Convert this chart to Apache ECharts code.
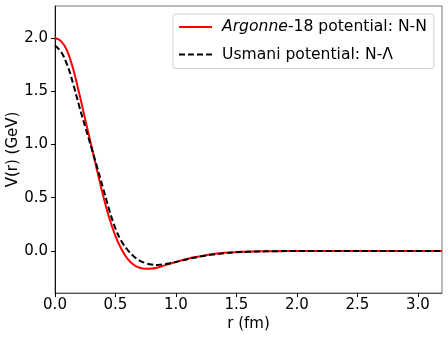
<!DOCTYPE html>
<html>
<head>
<meta charset="utf-8">
<title>V(r)</title>
<style>
  html, body { margin: 0; padding: 0; background: #fff; }
  #chart { width: 448px; height: 340px; }
</style>
</head>
<body>
<div id="chart"></div>
<script src="https://cdn.jsdelivr.net/npm/echarts@6/dist/echarts.min.js"></script>
<script>
// r grid (fm)
var rGrid = [0, 0.05, 0.1, 0.15, 0.2, 0.25, 0.3, 0.35, 0.4, 0.45, 0.5, 0.55, 0.6, 0.65, 0.7, 0.75,
  0.8, 0.85, 0.9, 0.95, 1.0, 1.05, 1.1, 1.15, 1.2, 1.25, 1.3, 1.35, 1.4, 1.5, 1.6, 1.7, 1.8, 2.0, 2.5, 3.2];

// Argonne-18, N-N (GeV)
var av18 = [2.00, 1.97, 1.88, 1.71, 1.48, 1.235, 0.99, 0.745, 0.51, 0.305, 0.14, 0.015, -0.075, -0.13, -0.158, -0.168,
  -0.166, -0.155, -0.138, -0.120, -0.103, -0.088, -0.073, -0.060, -0.050, -0.040, -0.031, -0.024, -0.018, -0.011, -0.006, -0.004, -0.002, -0.001, 0, 0];

// Usmani, N-Lambda (GeV)
var usmani = [1.93, 1.87, 1.75, 1.57, 1.36, 1.165, 0.975, 0.78, 0.58, 0.38, 0.21, 0.09, 0.01, -0.05, -0.09, -0.115,
  -0.128, -0.131, -0.126, -0.116, -0.104, -0.090, -0.076, -0.064, -0.053, -0.043, -0.034, -0.027, -0.021, -0.013, -0.008, -0.005, -0.003, -0.001, 0, 0];

var xTicks = [0, 0.5, 1.0, 1.5, 2.0, 2.5, 3.0];
var yTicks = [0, 0.5, 1.0, 1.5, 2.0];

var seriesNames = ['Argonne-18 potential: N-N', 'Usmani potential: N-\u039b'];

function pairs(xs, ys) {
  var out = [];
  for (var i = 0; i < xs.length; i++) out.push([xs[i], ys[i]]);
  return out;
}

var font = 'DejaVu Sans';
var fs = 15;
var lfs = 15.6;
var chart = echarts.init(document.getElementById('chart'));

chart.setOption({
  animation: false,
  textStyle: { fontFamily: font },
  grid: {
    left: 55, right: 6, top: 6, bottom: 47,
    outerBoundsMode: 'none', containLabel: false,
    show: true, borderColor: '#777', borderWidth: 1, backgroundColor: 'transparent'
  },
  legend: {
    orient: 'vertical',
    left: 173, top: 14,
    padding: [5, 7, 6, 5],
    itemGap: 11.5,
    itemWidth: 33, itemHeight: 14,
    backgroundColor: 'rgba(255,255,255,0.8)',
    borderColor: '#d0d0d0', borderWidth: 1, borderRadius: 3,
    itemStyle: { opacity: 0 },
    data: seriesNames,
    formatter: function (name) {
      if (name === seriesNames[0]) return '{i|Argonne}{n|-18 potential: N-N}';
      return '{n|' + name + '}';
    },
    textStyle: {
      fontFamily: font, fontSize: lfs, color: '#000', padding: [0, 0, 0, 5],
      rich: {
        i: { fontFamily: font, fontSize: lfs, fontStyle: 'italic', color: '#000' },
        n: { fontFamily: font, fontSize: lfs, color: '#000' }
      }
    }
  },
  xAxis: {
    type: 'value', min: 0, max: 3.2,
    name: 'r (fm)', nameLocation: 'middle', nameGap: 24, nameMoveOverlap: false,
    nameTextStyle: { fontFamily: font, fontSize: fs, color: '#000' },
    axisLine: { onZero: false, lineStyle: { color: '#555', width: 1 } },
    axisTick: { show: true, length: 4, customValues: xTicks, lineStyle: { color: '#000' } },
    axisLabel: {
      customValues: xTicks, margin: 5, fontFamily: font, fontSize: fs, color: '#000',
      formatter: function (v) { return v.toFixed(1); }
    },
    splitLine: { show: false }
  },
  yAxis: {
    type: 'value', min: -0.395, max: 2.3,
    name: 'V(r) (GeV)', nameLocation: 'middle', nameGap: 34, nameMoveOverlap: false,
    nameTextStyle: { fontFamily: font, fontSize: fs, color: '#000' },
    axisLine: { show: true, onZero: false, lineStyle: { color: '#111', width: 1 } },
    axisTick: { show: true, length: 4, customValues: yTicks, lineStyle: { color: '#000' } },
    axisLabel: {
      customValues: yTicks, margin: 7, fontFamily: font, fontSize: fs, color: '#000',
      formatter: function (v) { return v.toFixed(1); }
    },
    splitLine: { show: false }
  },
  series: [
    {
      name: seriesNames[0], type: 'line', data: pairs(rGrid, av18),
      showSymbol: false, symbol: 'none', smooth: 0.4,
      lineStyle: { color: '#ff0000', width: 2 }, itemStyle: { color: '#ff0000' }
    },
    {
      name: seriesNames[1], type: 'line', data: pairs(rGrid, usmani),
      showSymbol: false, symbol: 'none', smooth: 0.4,
      lineStyle: { color: '#000', width: 2, type: [6, 3] }, itemStyle: { color: '#000' }
    }
  ]
});
</script>
</body>
</html>
